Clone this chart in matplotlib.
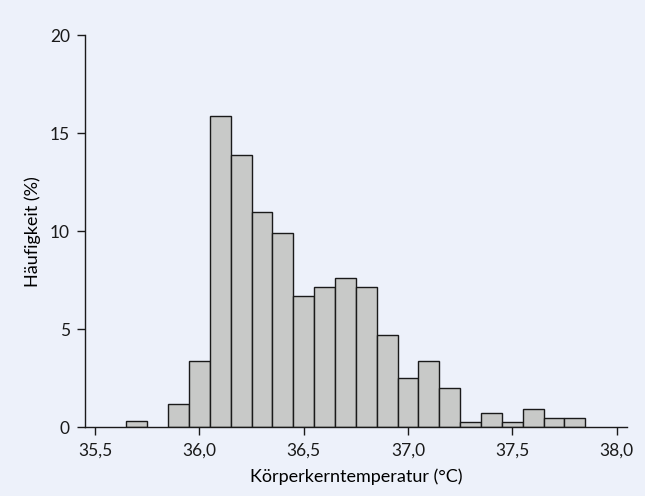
import matplotlib.pyplot as plt
from matplotlib.ticker import FuncFormatter

# Klassenmitten (°C) und Häufigkeit (%)
klassen = [35.7, 35.9, 36.0, 36.1, 36.2, 36.3, 36.4, 36.5, 36.6, 36.7,
           36.8, 36.9, 37.0, 37.1, 37.2, 37.3, 37.4, 37.5, 37.6, 37.7, 37.8]
haeufigkeit = [0.3, 1.2, 3.35, 15.9, 13.9, 11.0, 9.9, 6.7, 7.15, 7.6,
               7.15, 4.7, 2.5, 3.35, 2.0, 0.25, 0.7, 0.25, 0.9, 0.45, 0.45]
x_ticks = [35.5, 36.0, 36.5, 37.0, 37.5, 38.0]
y_ticks = [0, 5, 10, 15, 20]

bg = '#edf1fa'
plt.rcParams['font.family'] = ['Lato', 'DejaVu Sans']

fig = plt.figure(figsize=(6.45, 4.96), dpi=100, facecolor=bg)
ax = fig.add_axes([0.132, 0.139, 0.840, 0.790], facecolor=bg)

ax.bar(klassen, haeufigkeit, width=0.1, color='#c8c9c8',
       edgecolor='#1a1a1a', linewidth=1.0, zorder=2)

ax.set_xlim(35.452, 38.05)
ax.set_ylim(0, 20)
ax.set_xticks(x_ticks)
ax.set_yticks(y_ticks)
ax.xaxis.set_major_formatter(FuncFormatter(lambda v, p: f'{v:.1f}'.replace('.', ',')))

for s in ['top', 'right']:
    ax.spines[s].set_visible(False)
for s in ['left', 'bottom']:
    ax.spines[s].set_linewidth(1.0)
    ax.spines[s].set_color('#1a1a1a')

ax.tick_params(direction='out', length=6, width=1.0, labelsize=12.5, colors='#1a1a1a', pad=5)
ax.set_xlabel('Körperkerntemperatur (°C)', fontsize=13, labelpad=7)
ax.set_ylabel('Häufigkeit (%)', fontsize=13, labelpad=6)

fig.savefig('out.png', dpi=100, facecolor=bg)
